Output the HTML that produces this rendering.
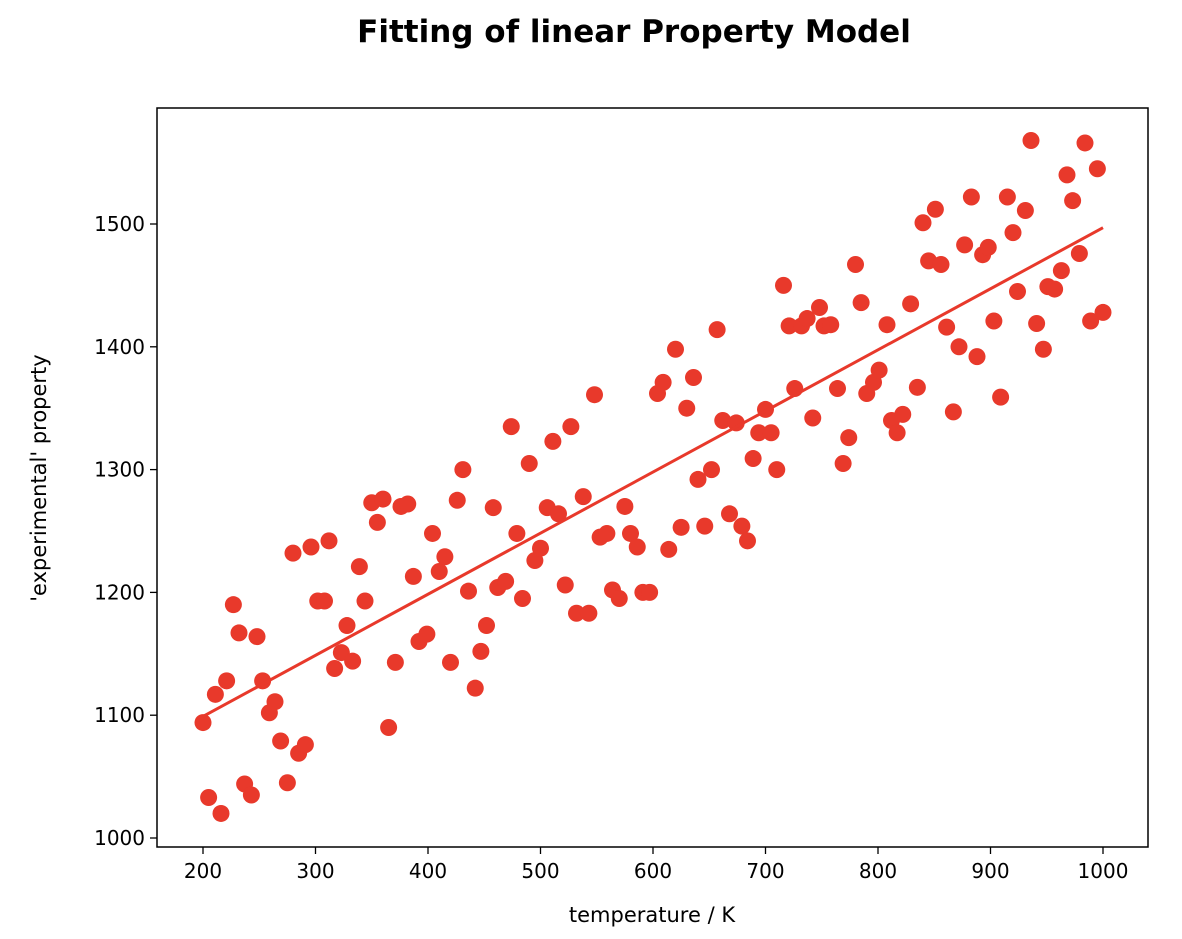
<!DOCTYPE html>
<html><head><meta charset="utf-8"><style>
body{margin:0;background:#fff;font-family:"Liberation Sans","DejaVu Sans",sans-serif}
</style></head><body>
<svg id="c" width="1182" height="934" xmlns="http://www.w3.org/2000/svg">
<text x="634" y="42" text-anchor="middle" font-size="31" font-weight="bold" fill="#000" font-family="DejaVu Sans, Liberation Sans, sans-serif">Fitting of linear Property Model</text>
<rect x="157" y="108" width="991" height="739" fill="none" stroke="#000" stroke-width="1.5"/>
<text x="652" y="922" text-anchor="middle" font-size="21" font-family="DejaVu Sans, Liberation Sans, sans-serif">temperature / K</text>
<text transform="translate(46,478) rotate(-90)" text-anchor="middle" font-size="21" font-family="DejaVu Sans, Liberation Sans, sans-serif">'experimental' property</text>
</svg>
<script>
const xTicks=[200,300,400,500,600,700,800,900,1000];
const yTicks=[1000,1100,1200,1300,1400,1500];
const temps=[200,205,211,216,221,227,232,237,243,248,253,259,264,269,275,280,285,291,296,302,308,312,317,323,328,333,339,344,350,355,360,365,371,376,382,387,392,399,404,410,415,420,426,431,436,442,447,452,458,462,469,474,479,484,490,495,500,506,511,516,522,527,532,538,543,548,553,559,564,570,575,580,586,591,597,604,609,614,620,625,630,636,640,646,652,657,662,668,674,679,684,689,694,700,705,710,716,721,726,732,737,742,748,752,758,764,769,774,780,785,790,796,801,808,812,817,822,829,835,840,845,851,856,861,867,872,877,883,888,893,898,903,909,915,920,924,931,936,941,947,951,957,963,968,973,979,984,989,995,1000];
const props=[1094,1033,1117,1020,1128,1190,1167,1044,1035,1164,1128,1102,1111,1079,1045,1232,1069,1076,1237,1193,1193,1242,1138,1151,1173,1144,1221,1193,1273,1257,1276,1090,1143,1270,1272,1213,1160,1166,1248,1217,1229,1143,1275,1300,1201,1122,1152,1173,1269,1204,1209,1335,1248,1195,1305,1226,1236,1269,1323,1264,1206,1335,1183,1278,1183,1361,1245,1248,1202,1195,1270,1248,1237,1200,1200,1362,1371,1235,1398,1253,1350,1375,1292,1254,1300,1414,1340,1264,1338,1254,1242,1309,1330,1349,1330,1300,1450,1417,1366,1417,1423,1342,1432,1417,1418,1366,1305,1326,1467,1436,1362,1371,1381,1418,1340,1330,1345,1435,1367,1501,1470,1512,1467,1416,1347,1400,1483,1522,1392,1475,1481,1421,1359,1522,1493,1445,1511,1568,1419,1398,1449,1447,1462,1540,1519,1476,1566,1421,1545,1428];
const fitX=[200,1000];
const fitY=[1099,1497];
const X=v=>203+(v-200)*1.125;
const Y=v=>838-(v-1000)*1.228;
const ns="http://www.w3.org/2000/svg";
const svg=document.getElementById('c');
function mk(t,a,txt){const e=document.createElementNS(ns,t);for(const k in a)e.setAttribute(k,a[k]);if(txt!=null)e.textContent=txt;svg.appendChild(e);return e;}
const F="DejaVu Sans, Liberation Sans, sans-serif";
xTicks.forEach(t=>{
 const l=mk('line',{x1:X(t),x2:X(t),y1:847,y2:854,stroke:'#000','stroke-width':1.3});
 
 
 const s=mk('text',{x:X(t),y:878,'text-anchor':'middle','font-size':20,'font-family':F},t);
 
 
});
yTicks.forEach(t=>{
 const l=mk('line',{x1:150,x2:157,y1:Y(t),y2:Y(t),stroke:'#000','stroke-width':1.3});
 
 
 const s=mk('text',{x:145,y:Y(t)+7,'text-anchor':'end','font-size':20,'font-family':F},t);
 
 
});
temps.forEach((t,i)=>{
 const c=mk('circle',{cx:X(t),cy:Y(props[i]),r:8.5,fill:'#e8392b'});
 
 
});
const fl=mk('line',{x1:X(fitX[0]),y1:Y(fitY[0]),x2:X(fitX[1]),y2:Y(fitY[1]),stroke:'#e8392b','stroke-width':3});


</script>
</body></html>
